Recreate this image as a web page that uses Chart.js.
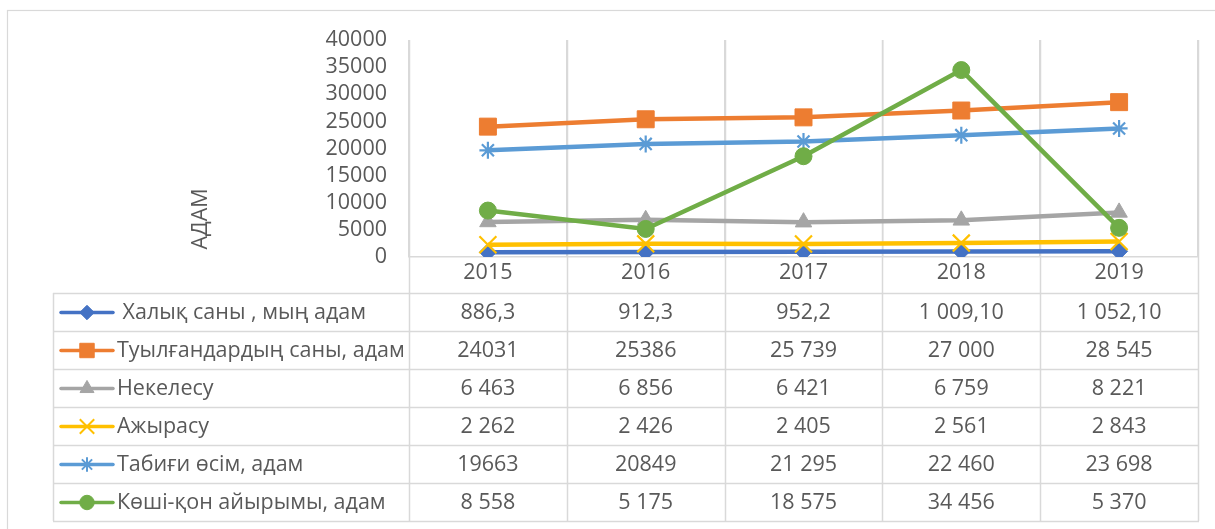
<!DOCTYPE html>
<html>
<head>
<meta charset="utf-8">
<script src="https://cdn.jsdelivr.net/npm/chart.js@4/dist/chart.umd.min.js"></script>
<style>
    body { margin: 0; background: #fff; }
    #wrap { width: 1215px; height: 529px; }
</style>
</head>
<body>
<div id="wrap"><canvas id="demoChart" width="1215" height="529"></canvas></div>
<script>
var years = ["2015", "2016", "2017", "2018", "2019"];
var yTicks = [0, 5000, 10000, 15000, 20000, 25000, 30000, 35000, 40000];
var axisTitle = "АДАМ";

var seriesNames = [
    " Халық саны , мың адам",
    "Туылғандардың саны, адам",
    "Некелесу",
    "Ажырасу",
    "Табиғи өсім, адам",
    "Көші-қон айырымы, адам"
];
// values as printed in the table
var population = ["886,3", "912,3", "952,2", "1 009,10", "1 052,10"];
var births = ["24031", "25386", "25 739", "27 000", "28 545"];
var marriages = ["6 463", "6 856", "6 421", "6 759", "8 221"];
var divorces = ["2 262", "2 426", "2 405", "2 561", "2 843"];
var naturalGrowth = ["19663", "20849", "21 295", "22 460", "23 698"];
var migration = ["8 558", "5 175", "18 575", "34 456", "5 370"];

var colors = ["#4472C4", "#ED7D31", "#A5A5A5", "#FFC000", "#5B9BD5", "#70AD47"];
var markers = ["rectRot", "rect", "triangle", "crossRot", "star", "circle"];
var markerSize = [8.5, 12, 9.5, 12, 8.5, 8.5];

var FONT = "'Open Sans', 'Noto Sans', sans-serif";
var FONT_SIZE = 21.5;
var TEXT = "#595959";
var GRID = "#d9d9d9";

function toNumber(s) {
    return parseFloat(s.replace(/\s/g, "").replace(",", "."));
}

var tableRows = [population, births, marriages, divorces, naturalGrowth, migration];

var datasets = tableRows.map(function (row, i) {
    var open = markers[i] == "crossRot" || markers[i] == "star";
    return {
        label: seriesNames[i],
        data: row.map(toNumber),
        borderColor: colors[i],
        backgroundColor: colors[i],
        borderWidth: 4.5,
        pointStyle: markers[i],
        pointRadius: markerSize[i],
        pointHoverRadius: markerSize[i],
        pointBorderWidth: open ? 2.2 : 1,
        pointBackgroundColor: colors[i],
        pointBorderColor: colors[i],
        tension: 0,
        order: tableRows.length - i
    };
});

var ROW_H = 38;
var LABEL_ROW = 36;
var TABLE_LEFT = 53;

var dataTable = {
    id: "dataTable",
    beforeDraw: function (chart) {
        var ctx = chart.ctx;
        ctx.save();
        ctx.fillStyle = "#fff";
        ctx.fillRect(0, 0, chart.width, chart.height);
        ctx.strokeStyle = GRID;
        ctx.lineWidth = 1.2;
        ctx.strokeRect(7.5, 10.5, chart.width + 50, chart.height + 50);
        ctx.restore();
    },
    beforeDatasetsDraw: function (chart) {
        var ctx = chart.ctx;
        var area = chart.chartArea;
        var x = chart.scales.x;
        var half = (x.getPixelForValue(1) - x.getPixelForValue(0)) / 2;
        var tableTop = area.bottom + LABEL_ROW;
        var tableBottom = tableTop + ROW_H * tableRows.length;
        ctx.save();
        ctx.strokeStyle = GRID;
        ctx.lineWidth = 1.5;
        ctx.beginPath();
        // column dividers through plot, label row and table
        for (var c = 0; c <= years.length; c++) {
            var px = Math.round(x.getPixelForValue(c) - half) + 0.5;
            ctx.moveTo(px, area.top);
            ctx.lineTo(px, tableBottom);
        }
        ctx.moveTo(TABLE_LEFT + 0.5, tableTop);
        ctx.lineTo(TABLE_LEFT + 0.5, tableBottom);
        for (var r = 0; r <= tableRows.length; r++) {
            var py = Math.round(tableTop + r * ROW_H) + 0.5;
            ctx.moveTo(TABLE_LEFT, py);
            ctx.lineTo(area.right + 1, py);
        }
        ctx.stroke();

        // axis title
        ctx.fillStyle = TEXT;
        ctx.font = FONT_SIZE + "px " + FONT;
        ctx.textAlign = "center";
        ctx.textBaseline = "middle";
        ctx.translate(201, 219);
        ctx.rotate(-Math.PI / 2);
        ctx.fillText(axisTitle, 0, 0);
        ctx.restore();
    },
    afterDraw: function (chart) {
        var ctx = chart.ctx;
        var area = chart.chartArea;
        var x = chart.scales.x;
        var tableTop = area.bottom + LABEL_ROW;
        ctx.save();
        ctx.font = FONT_SIZE + "px " + FONT;
        ctx.textBaseline = "middle";
        tableRows.forEach(function (row, i) {
            var cy = tableTop + ROW_H * i + ROW_H / 2 + 0.5;
            // legend key
            ctx.strokeStyle = colors[i];
            ctx.lineWidth = 3.5;
            ctx.lineCap = "round";
            ctx.beginPath();
            ctx.moveTo(61, cy);
            ctx.lineTo(113, cy);
            ctx.stroke();
            ctx.lineCap = "butt";
            ctx.fillStyle = colors[i];
            var open = markers[i] == "crossRot" || markers[i] == "star";
            ctx.lineWidth = open ? 2 : 1;
            if (Chart.helpers && Chart.helpers.drawPoint) {
                Chart.helpers.drawPoint(ctx, {
                    pointStyle: markers[i],
                    radius: markerSize[i] * 0.85,
                    borderWidth: ctx.lineWidth,
                    rotation: 0
                }, 87, cy);
            }
            ctx.fillStyle = TEXT;
            ctx.textAlign = "left";
            ctx.fillText(seriesNames[i], 117, cy);
            // values
            ctx.textAlign = "center";
            row.forEach(function (v, j) {
                ctx.fillText(v, x.getPixelForValue(j), cy);
            });
        });
        ctx.restore();
    }
};

var chart = new Chart(document.getElementById("demoChart"), {
    type: "line",
    data: {
        labels: years,
        datasets: datasets
    },
    options: {
        responsive: false,
        animation: false,
        layout: {
            padding: { left: 0, top: 40, right: 17, bottom: 236 }
        },
        plugins: {
            legend: { display: false },
            tooltip: { enabled: false }
        },
        scales: {
            x: {
                offset: true,
                afterFit: function (scale) { scale.height = LABEL_ROW; },
                grid: { display: true, offset: true, color: GRID, lineWidth: 1.5, drawTicks: false },
                border: { display: true, color: GRID, width: 1.5 },
                ticks: { color: TEXT, font: { family: FONT, size: FONT_SIZE }, padding: 3 }
            },
            y: {
                min: yTicks[0],
                max: yTicks[yTicks.length - 1],
                afterFit: function (scale) { scale.width = 409; },
                afterBuildTicks: function (scale) {
                    scale.ticks = yTicks.map(function (v) { return { value: v }; });
                },
                grid: { display: false, drawTicks: false },
                border: { display: false },
                ticks: {
                    color: TEXT,
                    font: { family: FONT, size: FONT_SIZE },
                    padding: 22,
                    autoSkip: false,
                    callback: function (v) { return String(v); }
                }
            }
        }
    },
    plugins: [dataTable]
});
</script>
</body>
</html>
